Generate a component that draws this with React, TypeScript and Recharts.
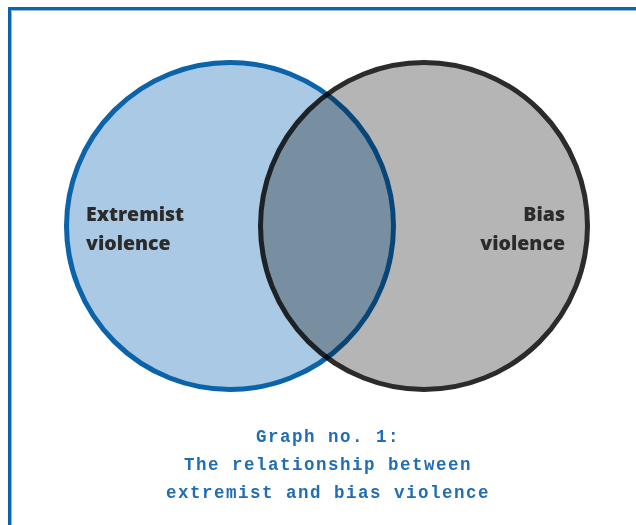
import { ScatterChart, Scatter, XAxis, YAxis } from "recharts";

const W = 636;
const H = 525;

// two sets of the diagram, in page pixel units
const setNames = ["Extremist", "Bias"];
const setSubNames = ["violence", "violence"];
const centerX = [230, 424];
const centerY = [226, 226];
const radius = [163.5, 163.5];

const captionLines = [
  "Graph no. 1:",
  "The relationship between",
  "extremist and bias violence",
];

const circles = setNames.map((name, i) => ({
  name,
  sub: setSubNames[i],
  x: centerX[i],
  y: centerY[i],
  r: radius[i],
  side: i === 0 ? "left" : "right",
}));

const labelFont = "'Open Sans', 'Noto Sans', sans-serif";

function CircleShape(props: any) {
  const { cx, cy, payload } = props;
  const left = payload.side === "left";
  const r = payload.r; // 1 data unit = 1px (domain matches chart size)
  const tx = left ? cx - 144 : cx + 141;
  return (
    <g style={left ? undefined : { mixBlendMode: "multiply" }}>
      <circle
        cx={cx}
        cy={cy}
        r={r}
        fill={left ? "#a9c9e4" : "#b5b5b5"}
        stroke={left ? "#0b63a9" : "#2b2b2b"}
        strokeWidth={5}
      />
      <text
        x={tx}
        y={cy - 5}
        textAnchor={left ? "start" : "end"}
        fontFamily={labelFont}
        fontWeight={800}
        fontSize={19.5}
        fill="#2b2b2b"
      >
        {payload.name}
      </text>
      <text
        x={tx}
        y={cy + 24}
        textAnchor={left ? "start" : "end"}
        fontFamily={labelFont}
        fontWeight={800}
        fontSize={19.5}
        fill="#2b2b2b"
      >
        {payload.sub}
      </text>
    </g>
  );
}

export default function App() {
  return (
    <div style={{ position: "absolute", left: 0, top: 0, width: W, height: H, background: "#fff", overflow: "hidden" }}>
      <div
        style={{
          position: "absolute",
          left: 8,
          top: 7,
          width: W,
          height: H,
          borderLeft: "3px solid #0b63a9",
          borderTop: "3px solid #0b63a9",
          boxShadow: "inset 1px 1px 0 #8fbbe3",
        }}
      />
      <div style={{ position: "absolute", left: 0, top: 0 }}>
        <ScatterChart width={W} height={H} margin={{ top: 0, right: 0, bottom: 0, left: 0 }}>
          <XAxis type="number" dataKey="x" domain={[0, W]} hide />
          <YAxis type="number" dataKey="y" domain={[0, H]} reversed hide />
          <Scatter data={circles} shape={CircleShape} isAnimationActive={false} />
        </ScatterChart>
      </div>
      <div
        style={{
          position: "absolute",
          left: 0,
          width: W,
          top: 423,
          textAlign: "center",
          paddingLeft: 20,
          boxSizing: "border-box",
          fontFamily: "'Liberation Mono', 'DejaVu Sans Mono', monospace",
          fontWeight: 700,
          fontSize: 17.5,
          letterSpacing: 1.5,
          lineHeight: "28px",
          color: "#1f6db5",
        }}
      >
        {captionLines.map((l) => (
          <div key={l}>{l}</div>
        ))}
      </div>
    </div>
  );
}
